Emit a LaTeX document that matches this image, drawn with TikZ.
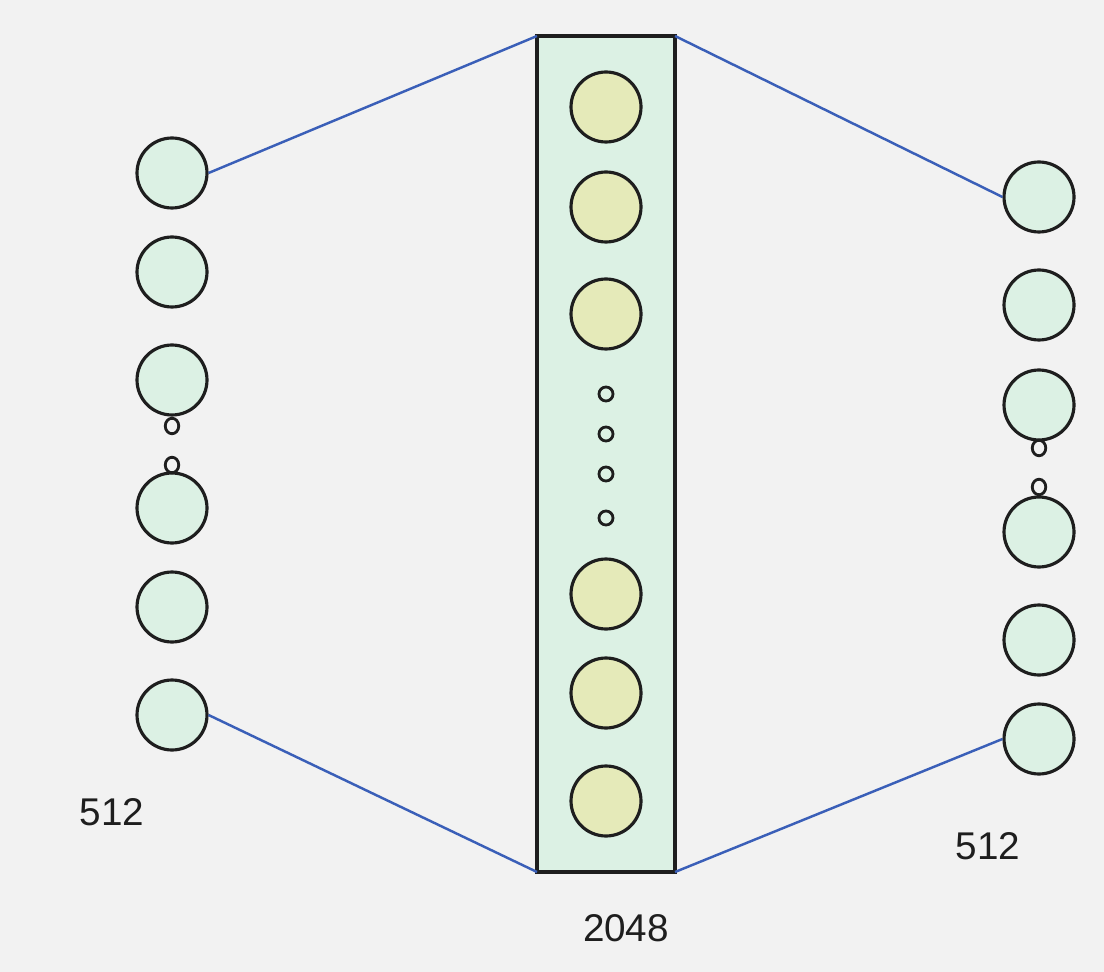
\documentclass[tikz,border=0pt]{standalone}
\usepackage{fontspec}
\setmainfont{Liberation Sans}
\usetikzlibrary{shapes.geometric}
\definecolor{bgc}{HTML}{F2F2F2}
\definecolor{mint}{HTML}{DCF1E4}
\definecolor{pale}{HTML}{E5EAB9}
\definecolor{link}{HTML}{3A5FB8}
\definecolor{ink}{HTML}{1E1E1E}
\tikzset{
  neuron/.style={circle, draw=ink, line width=1.8pt, fill=mint, minimum size=1.4cm, inner sep=0pt},
  hneuron/.style={neuron, fill=pale},
  dotc/.style={ellipse, draw=ink, line width=1.6pt, fill=none, minimum width=0.27cm, minimum height=0.31cm, inner sep=0pt},
  mdot/.style={circle, draw=ink, line width=1.6pt, fill=none, minimum size=0.28cm, inner sep=0pt},
  layer/.style={draw=ink, line width=1.9pt, fill=mint, inner sep=0pt},
  conn/.style={draw=link, line width=1.4pt},
  lbl/.style={font=\fontsize{22}{26}\selectfont, text=ink}
}
\begin{document}
\begin{tikzpicture}[x=0.02cm, y=-0.02cm]
\fill[bgc] (0,0) rectangle (1104,972);
\useasboundingbox (0,0) rectangle (1104,972);
% middle layer
\draw[layer] (537,36) rectangle (675,872);
\coordinate (rtl) at (537,36);
\coordinate (rtr) at (675,36);
\coordinate (rbl) at (537,872);
\coordinate (rbr) at (675,872);
\node[hneuron] (m1) at (606,107) {};
\node[hneuron] (m2) at (606,207) {};
\node[hneuron] (m3) at (606,314) {};
\node[hneuron] (m4) at (606,594) {};
\node[hneuron] (m5) at (606,693) {};
\node[hneuron] (m6) at (606,801) {};
\node[mdot] (md1) at (606,394) {};
\node[mdot] (md2) at (606,434) {};
\node[mdot] (md3) at (606,474) {};
\node[mdot] (md4) at (606,518) {};
% left layer
\node[neuron] (l1) at (172,173) {};
\node[neuron] (l2) at (172,272) {};
\node[neuron] (l3) at (172,380) {};
\node[neuron] (l4) at (172,508) {};
\node[neuron] (l5) at (172,607) {};
\node[neuron] (l6) at (172,715) {};
\node[dotc] (ld1) at (172,426) {};
\node[dotc] (ld2) at (172,465) {};
% right layer
\node[neuron] (r1) at (1039,197) {};
\node[neuron] (r2) at (1039,305) {};
\node[neuron] (r3) at (1039,405) {};
\node[neuron] (r4) at (1039,532) {};
\node[neuron] (r5) at (1039,640) {};
\node[neuron] (r6) at (1039,739) {};
\node[dotc] (rd1) at (1039,448) {};
\node[dotc] (rd2) at (1039,487) {};
% connectors
\draw[conn] (l1.east) -- (rtl);
\draw[conn] (l6.east) -- (rbl);
\draw[conn] (rtr) -- (r1.west);
\draw[conn] (rbr) -- (r6.west);
% labels
\node[lbl] (t1) at (112,812) {512};
\node[lbl] (t2) at (988,846) {512};
\node[lbl] (t3) at (626,928) {2048};
\end{tikzpicture}
\end{document}
